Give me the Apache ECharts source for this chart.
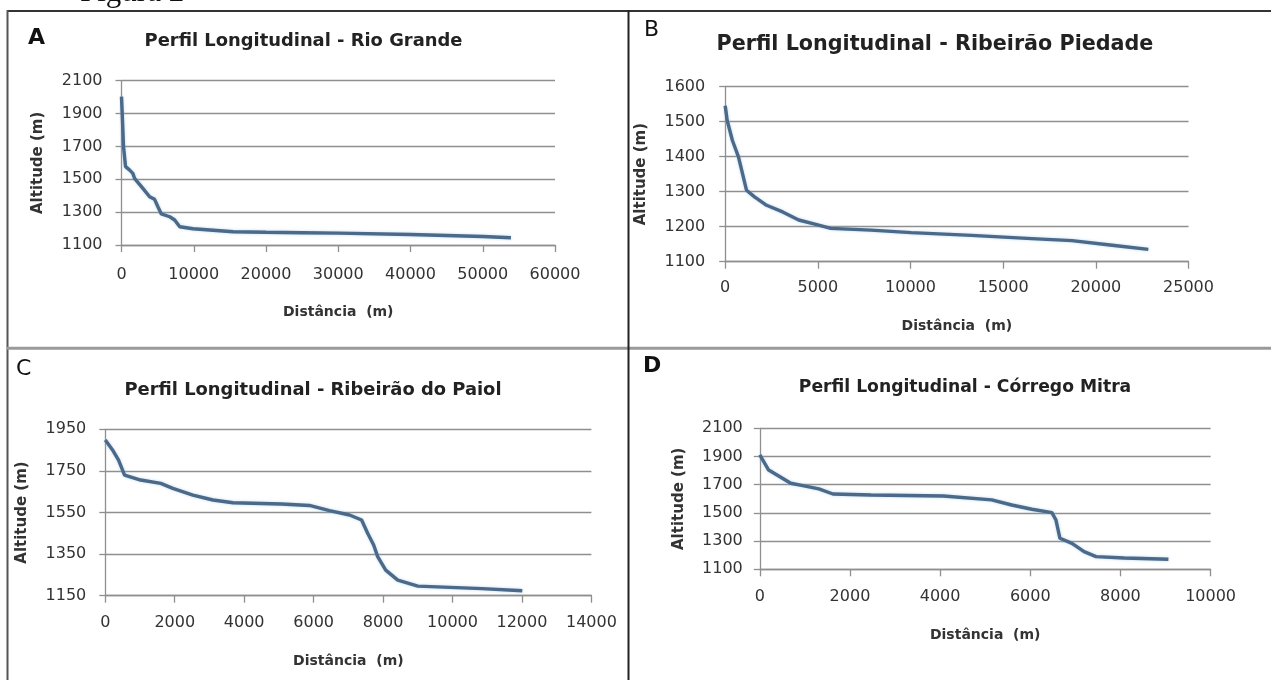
<!DOCTYPE html>
<html>
<head>
<meta charset="utf-8">
<script src="https://cdn.jsdelivr.net/npm/echarts@6/dist/echarts.min.js"></script>
<style>
html,body{margin:0;padding:0;background:#fff;}
#chart{width:1271px;height:680px;}
</style>
</head>
<body>
<div id="chart"></div>
<script>
// ---- Data ----
const titles = [
  'Perfil Longitudinal - Rio Grande',
  'Perfil Longitudinal - Ribeirão Piedade',
  'Perfil Longitudinal - Ribeirão do Paiol',
  'Perfil Longitudinal - Córrego Mitra'
];
const panelLetters = ['A', 'B', 'C', 'D'];
const xAxisName = 'Distância  (m)';
const yAxisName = 'Altitude (m)';

// A - Rio Grande
const distA = [0, 100, 280, 560, 1100, 1570, 1800, 2960, 3890, 4580, 5040, 5510, 6670, 7360, 8060, 9900, 15460, 20000, 25000, 30000, 40000, 50000, 53900];
const altA  = [2003, 1900, 1698, 1577, 1557, 1536, 1506, 1445, 1394, 1378, 1333, 1289, 1272, 1252, 1211, 1199, 1181, 1178, 1175, 1172, 1164, 1152, 1144];
// B - Ribeirão Piedade
const distB = [0, 108, 390, 716, 1149, 1583, 2233, 3100, 3968, 4835, 5702, 7871, 10039, 13291, 16544, 18712, 20880, 22832];
const altB  = [1545, 1503, 1446, 1399, 1304, 1285, 1261, 1242, 1219, 1207, 1195, 1190, 1183, 1175, 1166, 1160, 1147, 1135];
// C - Ribeirão do Paiol
const distC = [0, 208, 382, 555, 1018, 1597, 1944, 2522, 3101, 3679, 5068, 5878, 6456, 7035, 7382, 7556, 7729, 7845, 8076, 8423, 9002, 9927, 10853, 12010];
const altC  = [1899, 1851, 1802, 1730, 1706, 1690, 1666, 1634, 1610, 1597, 1591, 1584, 1559, 1538, 1514, 1450, 1394, 1338, 1273, 1225, 1196, 1190, 1184, 1174];
// D - Córrego Mitra
const distD = [0, 196, 419, 686, 954, 1310, 1622, 2469, 4073, 5143, 5588, 6034, 6480, 6569, 6658, 6925, 7193, 7460, 8084, 9064];
const altD  = [1911, 1804, 1762, 1710, 1693, 1670, 1634, 1627, 1620, 1592, 1556, 1526, 1502, 1450, 1320, 1284, 1225, 1190, 1180, 1171];

// Axis scales (tick labels)
const xScales = [
  {min: 0, max: 60000, interval: 10000},
  {min: 0, max: 25000, interval: 5000},
  {min: 0, max: 14000, interval: 2000},
  {min: 0, max: 10000, interval: 2000}
];
const yScales = [
  {min: 1100, max: 2100, interval: 200},
  {min: 1100, max: 1600, interval: 100},
  {min: 1150, max: 1950, interval: 200},
  {min: 1100, max: 2100, interval: 200}
];

const dists = [distA, distB, distC, distD];
const alts = [altA, altB, altC, altD];

// ---- Layout ----
const grids = [
  {left: 121.5, top: 80.7, width: 433.5, height: 164.3},
  {left: 725.2, top: 86.5, width: 463.3, height: 175.2},
  {left: 105.3, top: 429.3, width: 486.1, height: 166.4},
  {left: 759.8, top: 428.3, width: 450.8, height: 141}
];
const yLabelMargin = [19, 20, 19, 17];
const xLabelMargin = [22, 18.5, 19.5, 20];
const xNameGap = [60, 58, 59, 59];
const yNameGap = [76, 77, 76, 73];
const titleSpecs = [
  {cx: 303.5, cy: 41.7, size: 17.9},
  {cx: 935, cy: 45, size: 20.7},
  {cx: 313, cy: 390, size: 17.9},
  {cx: 965, cy: 388, size: 17.2}
];
const letterSpecs = [
  {x: 28, cy: 38.5, w: 'bold'},
  {x: 644, cy: 30.5, w: 'normal'},
  {x: 16, cy: 369, w: 'normal'},
  {x: 643, cy: 366, w: 'bold'}
];

const FONT = 'DejaVu Sans';
const gridColor = '#8f8f8f';
const labelColor = '#333333';

const option = {
  animation: false,
  backgroundColor: '#ffffff',
  grid: grids.map(g => Object.assign({containLabel: false}, g)),
  xAxis: xScales.map((s, i) => ({
    type: 'value', gridIndex: i, min: s.min, max: s.max, interval: s.interval,
    name: xAxisName, nameLocation: 'middle', nameGap: xNameGap[i],
    nameTextStyle: {fontFamily: FONT, fontWeight: 'bold', fontSize: 14, color: '#333'},
    axisLine: {show: true, onZero: false, lineStyle: {color: gridColor, width: 1.3}},
    axisTick: {show: true, inside: false, length: 7, lineStyle: {color: gridColor, width: 1.3}},
    axisLabel: {margin: xLabelMargin[i], fontFamily: FONT, fontSize: 16, color: labelColor, showMinLabel: true, showMaxLabel: true, formatter: v => String(v)},
    splitLine: {show: false}
  })),
  yAxis: yScales.map((s, i) => ({
    type: 'value', gridIndex: i, min: s.min, max: s.max, interval: s.interval,
    name: yAxisName, nameLocation: 'middle', nameGap: yNameGap[i], nameRotate: 90,
    nameTextStyle: {fontFamily: FONT, fontWeight: 'bold', fontSize: 15, color: '#333'},
    axisLine: {show: true, lineStyle: {color: gridColor, width: 1.3}},
    axisTick: {show: true, inside: false, length: 6, lineStyle: {color: gridColor, width: 1.3}},
    axisLabel: {margin: yLabelMargin[i], fontFamily: FONT, fontSize: 16, color: labelColor, showMinLabel: true, showMaxLabel: true, formatter: v => String(v)},
    splitLine: {show: true, lineStyle: {color: gridColor, width: 1.3}}
  })),
  series: dists.map((d, i) => ({
    type: 'line', xAxisIndex: i, yAxisIndex: i,
    data: d.map((x, k) => [x, alts[i][k]]),
    showSymbol: false, symbol: 'none', smooth: false,
    lineStyle: {color: '#4b6988', width: 3.4, shadowColor: 'rgba(150,190,230,0.6)', shadowBlur: 3},
    z: 5
  })),
  graphic: [
    // frame lines
    {type: 'line', shape: {x1: 7, y1: 11, x2: 1271, y2: 11}, style: {stroke: '#333', lineWidth: 2}, z: 10},
    {type: 'line', shape: {x1: 7.5, y1: 10, x2: 7.5, y2: 680}, style: {stroke: '#555', lineWidth: 2}, z: 10},
    {type: 'line', shape: {x1: 7, y1: 348.3, x2: 1271, y2: 348.3}, style: {stroke: '#9a9a9a', lineWidth: 3}, z: 10},
    {type: 'line', shape: {x1: 628.5, y1: 10, x2: 628.5, y2: 680}, style: {stroke: '#222', lineWidth: 2}, z: 11},
    // "Figura 2" caption (cut at the top)
    {type: 'text', x: 80, y: 8.7, style: {text: 'Figura 2', font: '31px "Liberation Serif", serif', fill: '#111', textAlign: 'left', textVerticalAlign: 'bottom'}, z: 10}
  ].concat(titles.map((t, i) => ({
    type: 'text', x: titleSpecs[i].cx, y: titleSpecs[i].cy,
    style: {text: t, font: 'bold ' + titleSpecs[i].size + 'px "' + FONT + '"', fill: '#222', textAlign: 'center', textVerticalAlign: 'middle'}, z: 10
  }))).concat(panelLetters.map((l, i) => ({
    type: 'text', x: letterSpecs[i].x, y: letterSpecs[i].cy,
    style: {text: l, font: letterSpecs[i].w + ' 22px "' + FONT + '"', fill: '#111', textAlign: 'left', textVerticalAlign: 'middle'}, z: 10
  })))
};

const chart = echarts.init(document.getElementById('chart'), null, {renderer: 'canvas'});
chart.setOption(option);
</script>
</body>
</html>
